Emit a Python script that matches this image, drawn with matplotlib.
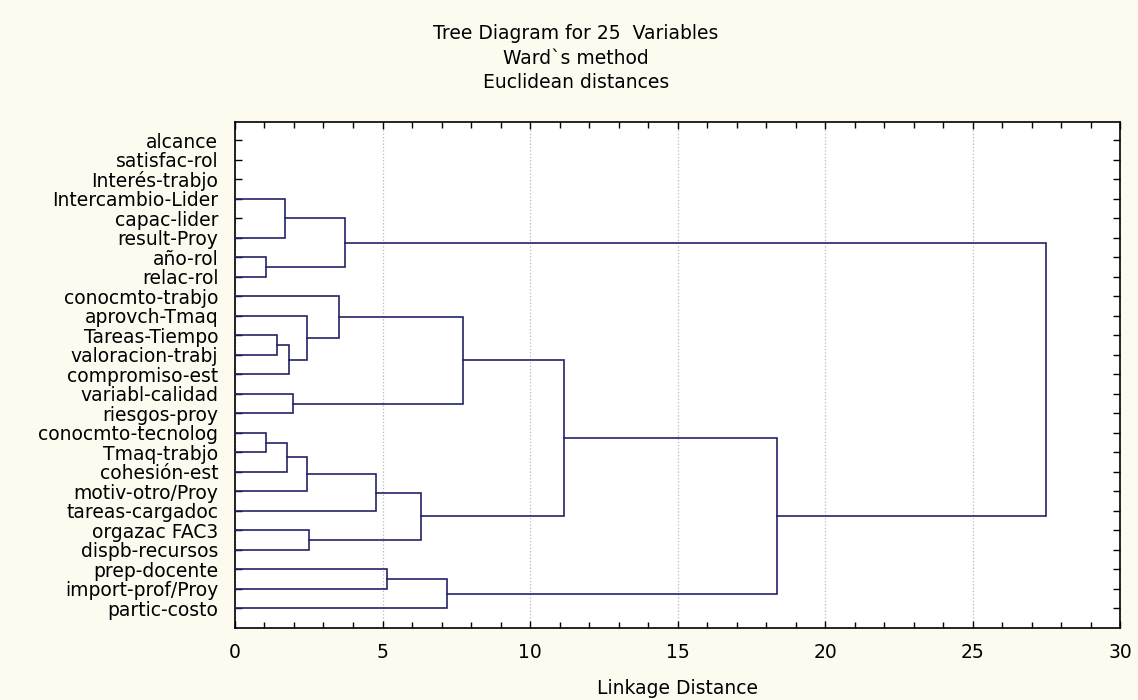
"""Tree diagram (Ward's method, Euclidean distances) for 25 variables."""

import matplotlib

matplotlib.use("Agg")
import matplotlib.pyplot as plt
from matplotlib.ticker import MultipleLocator

# Leaf order as it appears top to bottom
labels = [
    "alcance", "satisfac-rol", "Interés-trabjo", "Intercambio-Lider",
    "capac-lider", "result-Proy", "año-rol", "relac-rol",
    "conocmto-trabjo", "aprovch-Tmaq", "Tareas-Tiempo", "valoracion-trabj",
    "compromiso-est", "variabl-calidad", "riesgos-proy", "conocmto-tecnolog",
    "Tmaq-trabjo", "cohesión-est", "motiv-otro/Proy", "tareas-cargadoc",
    "orgazac FAC3", "dispb-recursos", "prep-docente", "import-prof/Proy",
    "partic-costo",
]

# Merges: ids < 25 are leaves, id 25+k is the cluster formed by merge k
merge_left = [3, 6, 25, 10, 28, 9, 8, 13, 31, 15, 34, 35, 36, 20, 37, 33, 22, 41, 40, 27]
merge_right = [5, 7, 26, 11, 12, 29, 30, 14, 32, 16, 17, 18, 19, 21, 38, 39, 23, 24, 42, 43]
merge_height = [1.69, 1.04, 3.73, 1.41, 1.84, 2.43, 3.53, 1.98, 7.74, 1.04,
                1.77, 2.43, 4.78, 2.52, 6.29, 11.16, 5.14, 7.17, 18.38, 27.49]

BG = "#fdfaf0"
LINE = "#22226a"
FS = 13.5

plt.rcParams["font.family"] = ["DejaVu Sans"]

fig = plt.figure(figsize=(11.38, 7.0), dpi=100, facecolor=BG)
ax = fig.add_axes([0.2065, 0.1029, 0.7777, 0.7232])
ax.set_facecolor("white")

n = len(labels)
pos = {i: float(i) for i in range(n)}
height = {i: 0.0 for i in range(n)}

for k, (a, b, h) in enumerate(zip(merge_left, merge_right, merge_height)):
    ya, yb = pos[a], pos[b]
    ax.plot([height[a], h, h, height[b]], [ya, ya, yb, yb],
            color=LINE, linewidth=1.2, solid_joinstyle="miter", zorder=3)
    pos[n + k] = (ya + yb) / 2
    height[n + k] = h

ax.set_xlim(0, 30)
ax.set_ylim(25.0, -0.95)

ax.xaxis.set_major_locator(MultipleLocator(5))
ax.xaxis.set_minor_locator(MultipleLocator(1))
ax.set_yticks(range(n))
ax.set_yticklabels(labels)

ax.tick_params(axis="x", which="both", direction="in", top=True, bottom=True,
               labelsize=FS, pad=11, width=1.0)
ax.tick_params(axis="x", which="major", length=5)
ax.tick_params(axis="x", which="minor", length=4)
ax.tick_params(axis="y", direction="in", left=True, right=True,
               labelsize=FS, pad=12, length=5, width=1.0)

ax.grid(axis="x", which="major", color="#b8b8b8", linestyle=":", linewidth=0.9, zorder=0)
for s in ax.spines.values():
    s.set_linewidth(1.2)

ax.set_xlabel("Linkage Distance", fontsize=FS, labelpad=12)

fig.text(0.506, 0.952, "Tree Diagram for 25  Variables", ha="center", va="center", fontsize=FS)
fig.text(0.506, 0.917, "Ward`s method", ha="center", va="center", fontsize=FS)
fig.text(0.506, 0.882, "Euclidean distances", ha="center", va="center", fontsize=FS)

fig.savefig("out.png", dpi=100, facecolor=BG)
